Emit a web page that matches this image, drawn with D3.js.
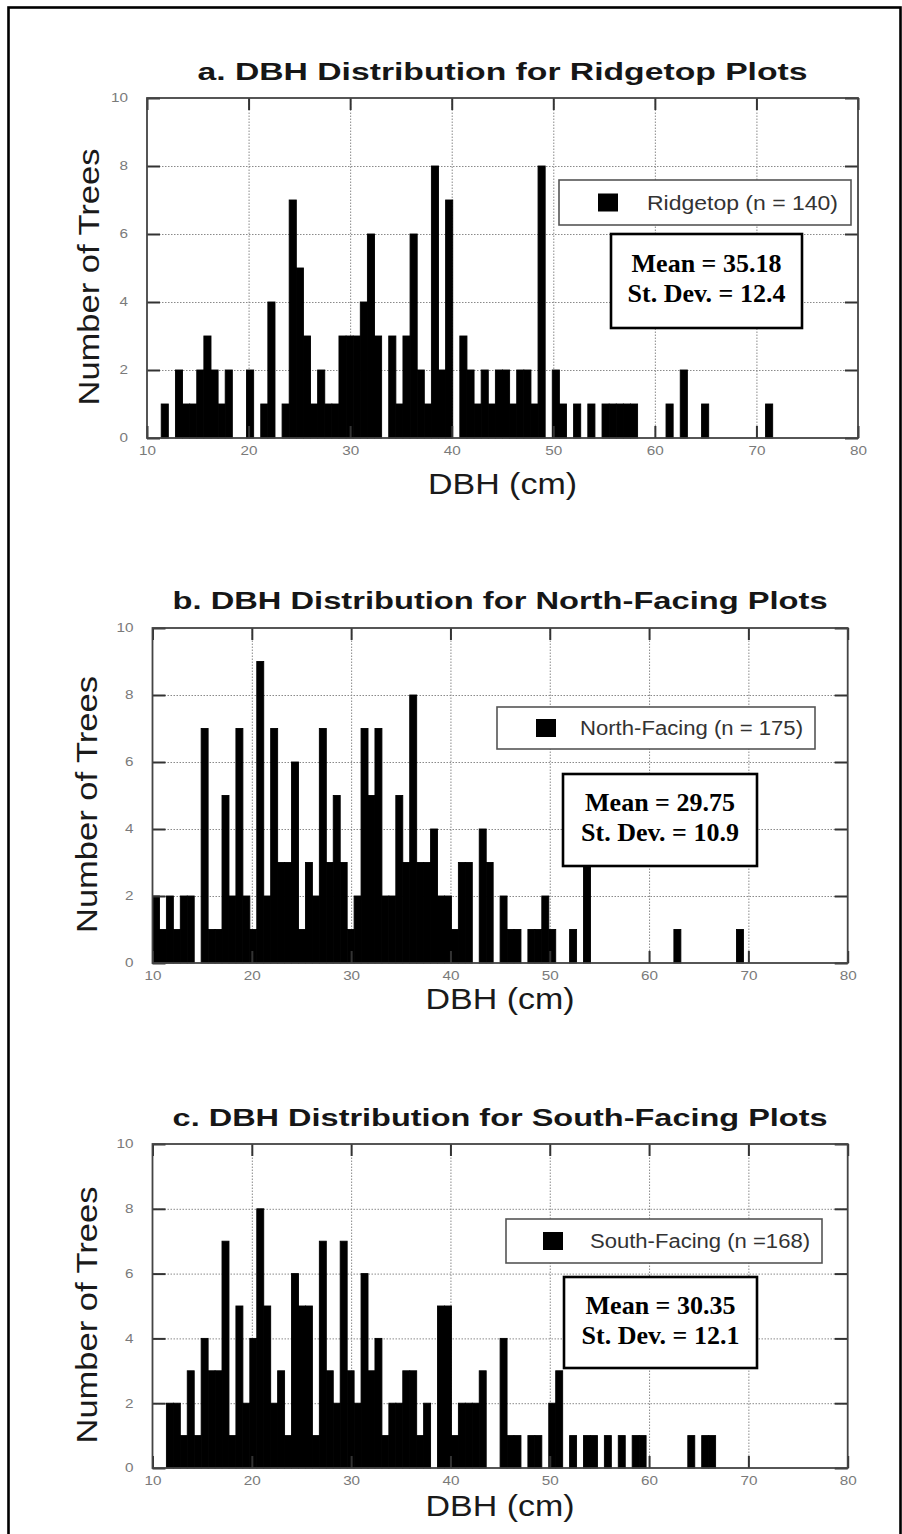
<!DOCTYPE html>
<html lang="en">
<head>
<meta charset="UTF-8">
<script src="https://d3js.org/d3.v7.min.js"></script>
<title>DBH Distributions</title>
<style>
  body { margin: 0; background: #fff; }
  svg { display: block; }
</style>
</head>
<body>
<svg id="chart"></svg>
<script>
const width = 902, height = 1534;

// histogram bins: 100 bins of 0.7 cm from 10 to 80 cm
const binStart = 10, binWidth = 0.7;

const ridgetopCounts = [
  0, 0, 1, 0, 2, 1, 1, 2, 3, 2,
  1, 2, 0, 0, 2, 0, 1, 4, 0, 1,
  7, 5, 3, 1, 2, 1, 1, 3, 3, 3,
  4, 6, 3, 0, 3, 1, 3, 6, 2, 1,
  8, 2, 7, 0, 3, 2, 1, 2, 1, 2,
  2, 1, 2, 2, 1, 8, 0, 2, 1, 0,
  1, 0, 1, 0, 1, 1, 1, 1, 1, 0,
  0, 0, 0, 1, 0, 2, 0, 0, 1, 0,
  0, 0, 0, 0, 0, 0, 0, 1
];
const northCounts = [
  2, 1, 2, 1, 2, 2, 0, 7, 1, 1,
  5, 2, 7, 2, 1, 9, 2, 7, 3, 3,
  6, 1, 3, 2, 7, 3, 5, 3, 1, 2,
  7, 5, 7, 2, 2, 5, 3, 8, 3, 3,
  4, 2, 2, 1, 3, 3, 0, 4, 3, 0,
  2, 1, 1, 0, 1, 1, 2, 1, 0, 0,
  1, 0, 3, 0, 0, 0, 0, 0, 0, 0,
  0, 0, 0, 0, 0, 1, 0, 0, 0, 0,
  0, 0, 0, 0, 1
];
const southCounts = [
  0, 0, 2, 2, 1, 3, 1, 4, 3, 3,
  7, 1, 5, 2, 4, 8, 5, 2, 3, 1,
  6, 5, 5, 1, 7, 3, 2, 7, 3, 2,
  6, 3, 4, 1, 2, 2, 3, 3, 1, 2,
  0, 5, 5, 1, 2, 2, 2, 3, 0, 0,
  4, 1, 1, 0, 1, 1, 0, 2, 3, 0,
  1, 0, 1, 1, 0, 1, 0, 1, 0, 1,
  1, 0, 0, 0, 0, 0, 0, 1, 0, 1,
  1
];

const titles = [
  "a. DBH Distribution for Ridgetop Plots",
  "b. DBH Distribution for North-Facing Plots",
  "c. DBH Distribution for South-Facing Plots"
];
const legendLabels = ["Ridgetop (n = 140)", "North-Facing (n = 175)", "South-Facing (n =168)"];
const means = ["35.18", "29.75", "30.35"];
const stdDevs = ["12.4", "10.9", "12.1"];
const xTicks = [10, 20, 30, 40, 50, 60, 70, 80];
const yTicks = [0, 2, 4, 6, 8, 10];
const xLabel = "DBH (cm)";
const yLabel = "Number of Trees";

// layout of the three panels (pixels)
const layouts = [
  {left: 147, right: 858, top: 98, bottom: 438, titleY: 80, titleW: 610, xlabY: 494, ylabX: 99,
   legend: {x: 559, y: 180, w: 292, h: 45, mark: 39, text: 88, tw: 191},
   stats: {x: 611, y: 234, w: 191, h: 94}},
  {left: 152.5, right: 847.7, top: 628, bottom: 963, titleY: 609, titleW: 655, xlabY: 1009, ylabX: 97,
   legend: {x: 497, y: 707, w: 318, h: 42, mark: 39, text: 83, tw: 223},
   stats: {x: 563, y: 774, w: 194, h: 92}},
  {left: 152.5, right: 847.7, top: 1144, bottom: 1468, titleY: 1126, titleW: 655, xlabY: 1516, ylabX: 97,
   legend: {x: 506, y: 1219, w: 316, h: 44, mark: 37, text: 84, tw: 220},
   stats: {x: 564, y: 1277, w: 193, h: 91}}
];
const allCounts = [ridgetopCounts, northCounts, southCounts];

const svg = d3.select("#chart").attr("width", width).attr("height", height);
svg.append("rect").attr("width", width).attr("height", height).attr("fill", "#fff");

// outer frame
svg.append("rect")
  .attr("x", 8.5).attr("y", 7.5).attr("width", 892).attr("height", 1560)
  .attr("fill", "none").attr("stroke", "#000").attr("stroke-width", 2.6);

const sans = "'Liberation Sans', Arial, sans-serif";
const serif = "'Liberation Serif', 'Times New Roman', serif";

layouts.forEach((L, i) => {
  const counts = allCounts[i];
  const x = d3.scaleLinear().domain([10, 80]).range([L.left, L.right]);
  const y = d3.scaleLinear().domain([0, 10]).range([L.bottom, L.top]);
  const g = svg.append("g");

  // dotted grid
  g.append("g").attr("transform", `translate(0,${L.bottom})`)
    .call(d3.axisBottom(x).tickValues(xTicks.slice(1, -1)).tickSize(-(L.bottom - L.top)).tickFormat(""))
    .call(a => a.select(".domain").remove())
    .selectAll("line").attr("stroke", "#8a8a8a").attr("stroke-dasharray", "1.5,1.5");
  g.append("g").attr("transform", `translate(${L.left},0)`)
    .call(d3.axisLeft(y).tickValues(yTicks.slice(1, -1)).tickSize(-(L.right - L.left)).tickFormat(""))
    .call(a => a.select(".domain").remove())
    .selectAll("line").attr("stroke", "#8a8a8a").attr("stroke-dasharray", "1.5,1.5");

  // bars
  const bins = counts.map((c, k) => ({x0: binStart + k * binWidth, x1: binStart + (k + 1) * binWidth, c}))
    .filter(d => d.c > 0);
  g.append("g").selectAll("rect").data(bins).join("rect")
    .attr("x", d => x(d.x0))
    .attr("width", d => x(d.x1) - x(d.x0))
    .attr("y", d => y(d.c))
    .attr("height", d => y(0) - y(d.c))
    .attr("fill", "#000").attr("stroke", "#000").attr("stroke-width", 0.9);

  // inward ticks on all four sides
  const tickStyle = a => {
    a.select(".domain").remove();
    a.selectAll("line").attr("stroke", "#333").attr("stroke-width", 2);
    a.selectAll("text").remove();
  };
  g.append("g").attr("transform", `translate(${L.left},0)`)
    .call(d3.axisLeft(y).tickValues(yTicks).tickSize(-13)).call(tickStyle);
  g.append("g").attr("transform", `translate(${L.right},0)`)
    .call(d3.axisRight(y).tickValues(yTicks).tickSize(-13)).call(tickStyle);
  g.append("g").attr("transform", `translate(0,${L.bottom})`)
    .call(d3.axisBottom(x).tickValues(xTicks).tickSize(-12)).call(tickStyle);
  g.append("g").attr("transform", `translate(0,${L.top})`)
    .call(d3.axisTop(x).tickValues(xTicks).tickSize(-12)).call(tickStyle);

  // frame
  g.append("rect")
    .attr("x", L.left).attr("y", L.top)
    .attr("width", L.right - L.left).attr("height", L.bottom - L.top)
    .attr("fill", "none").attr("stroke", "#444").attr("stroke-width", 1.8);

  // tick labels
  const labelStyle = a => {
    a.select(".domain").remove();
    a.selectAll("line").remove();
    a.selectAll("text")
      .attr("font-family", sans).attr("font-size", 12).attr("fill", "#7a7a7a")
      .attr("textLength", function() { return this.textContent.length * 8.5; })
      .attr("lengthAdjust", "spacingAndGlyphs");
  };
  g.append("g").attr("transform", `translate(0,${L.bottom})`)
    .call(d3.axisBottom(x).tickValues(xTicks).tickSize(0).tickPadding(8)).call(labelStyle);
  g.append("g").attr("transform", `translate(${L.left},0)`)
    .call(d3.axisLeft(y).tickValues(yTicks).tickSize(0).tickPadding(19)).call(labelStyle);

  // title
  svg.append("text")
    .attr("x", (L.left + L.right) / 2).attr("y", L.titleY)
    .attr("text-anchor", "middle")
    .attr("font-family", sans).attr("font-weight", "bold").attr("font-size", 23)
    .attr("fill", "#161616")
    .attr("textLength", L.titleW).attr("lengthAdjust", "spacingAndGlyphs")
    .text(titles[i]);

  // axis titles
  svg.append("text")
    .attr("x", (L.left + L.right) / 2).attr("y", L.xlabY)
    .attr("text-anchor", "middle")
    .attr("font-family", sans).attr("font-size", 29).attr("fill", "#1a1a1a")
    .attr("textLength", 149).attr("lengthAdjust", "spacingAndGlyphs")
    .text(xLabel);
  const yc = (L.top + L.bottom) / 2 + 9;
  svg.append("text")
    .attr("transform", `translate(${L.ylabX},${yc}) rotate(-90)`)
    .attr("text-anchor", "middle")
    .attr("font-family", sans).attr("font-size", 30).attr("fill", "#1a1a1a")
    .attr("textLength", 257).attr("lengthAdjust", "spacingAndGlyphs")
    .text(yLabel);

  // legend
  const lg = svg.append("g").attr("transform", `translate(${L.legend.x},${L.legend.y})`);
  lg.append("rect").attr("width", L.legend.w).attr("height", L.legend.h)
    .attr("fill", "#fff").attr("stroke", "#555").attr("stroke-width", 1.6);
  lg.append("rect").attr("x", L.legend.mark).attr("y", L.legend.h / 2 - 9)
    .attr("width", 20).attr("height", 18).attr("fill", "#000");
  lg.append("text").attr("x", L.legend.text).attr("y", L.legend.h / 2 + 7)
    .attr("font-family", sans).attr("font-size", 19.5).attr("fill", "#333")
    .attr("textLength", L.legend.tw).attr("lengthAdjust", "spacingAndGlyphs")
    .text(legendLabels[i]);

  // statistics box
  const sg = svg.append("g").attr("transform", `translate(${L.stats.x},${L.stats.y})`);
  sg.append("rect").attr("width", L.stats.w).attr("height", L.stats.h)
    .attr("fill", "#fff").attr("stroke", "#000").attr("stroke-width", 2.6);
  sg.selectAll("text").data([`Mean = ${means[i]}`, `St. Dev. = ${stdDevs[i]}`]).join("text")
    .attr("x", L.stats.w / 2)
    .attr("y", (d, j) => L.stats.h / 2 - 9 + j * 30)
    .attr("text-anchor", "middle")
    .attr("font-family", serif).attr("font-weight", "bold").attr("font-size", 26)
    .attr("fill", "#000")
    .text(d => d);
});
</script>
</body>
</html>
